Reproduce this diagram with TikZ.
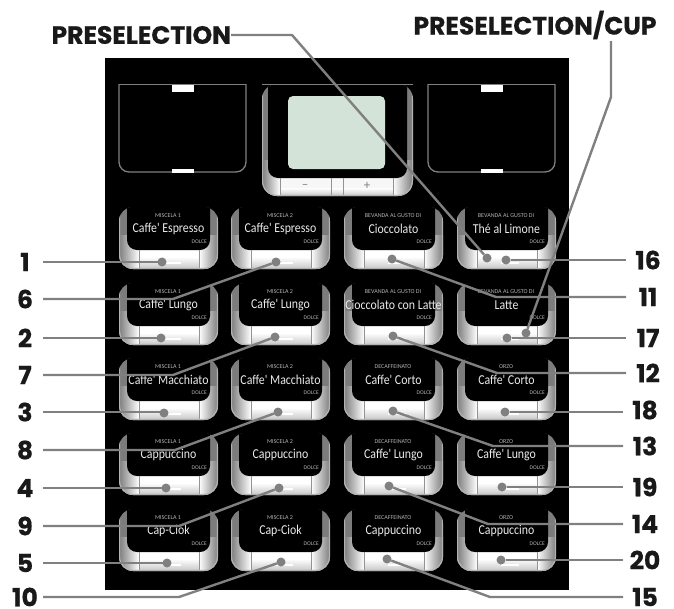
\documentclass[tikz,border=0pt]{standalone}
\usepackage{fontspec}
\setmainfont{Carlito}
\newfontfamily\labfont{Poppins}[BoldFeatures={FakeBold=0.6}]
\newfontfamily\btnfont{Carlito}[FakeStretch=0.87]
\definecolor{lead}{HTML}{808080}
\definecolor{lcd}{HTML}{D3E3D8}
\definecolor{strip}{HTML}{7C7C7C}
\definecolor{small}{HTML}{B4B4B4}
\tikzset{
 lab/.style={font=\labfont\bfseries\fontsize{25}{25}\selectfont,text=black!90,inner sep=0pt,outer sep=0pt,align=center},
 leftlab/.style={lab,minimum width=36pt},
 rightlab/.style={lab,minimum width=44pt},
 dot/.style={circle,fill=lead,inner sep=0pt,minimum size=9pt,outer sep=0pt},
 leader/.style={draw=lead,line width=2.4pt,line join=round},
 toptext/.style={text=small,font=\fontsize{6}{6}\selectfont,inner sep=0pt},
 maintext/.style={text=white!92!black,font=\btnfont\fontsize{13.6}{14}\selectfont,inner sep=0pt},
 dolce/.style={text=small,font=\fontsize{5.6}{6}\selectfont,inner sep=0pt},
 frame/.style={draw=gray,line width=1.3pt,rounded corners=10pt},
 tab/.style={fill=white,draw=none},
 sep/.style={draw=gray!85,line width=.8pt},
}
% #1 name, #2 x, #3 y, #4 top text, #5 main text
\newcommand{\btn}[5]{%
\begin{scope}[shift={(#2,#3)}]
 \begin{scope}
  \clip[rounded corners=14pt] (0,0) -- (0,62) -- (99,62) -- (99,0) -- cycle;
  \fill[strip] (0,0) rectangle (99,62);
  \shade[left color=strip,right color=white] (0,28) rectangle (20,62);
  \shade[left color=white,right color=strip] (80,28) rectangle (99,62);
  \fill[white] (20,43) rectangle (80,62);
  \shade[top color=white,bottom color=gray!45] (20,50) rectangle (80,62);
  \fill[black,rounded corners=10pt] (8,-20) rectangle (91,43);
  \fill[black] (8,-5) rectangle (91,20);
  \fill[white] (44,54.5) rectangle (62,56.5);
  \draw[sep] (20,43) -- (20,62);
  \draw[sep] (80,43) -- (80,62);
  \draw[gray!60,line width=2.4pt,rounded corners=14pt] (0,-2) -- (0,62) -- (99,62) -- (99,-2);
 \end{scope}
 \node[toptext] (#1top) at (49,9) {#4};
 \node[maintext] (#1main) at (49.5,22) {#5};
 \node[dolce,anchor=east] (#1dolce) at (88,35) {DOLCE};
\end{scope}}
\newcommand{\blankframe}[2]{%
\begin{scope}[shift={(#2,84)}]
 \draw[frame] (0,0) -- (0,88) -- (127,88) -- (127,0);
 \draw[gray,line width=1pt] (0,0) -- (127,0);
 \fill[tab] (53,1) rectangle (75,8);
 \fill[tab] (53,85) rectangle (75,88.5);
\end{scope}}
\begin{document}
\begin{tikzpicture}[x=1pt,y=-1pt]
\useasboundingbox (0,0) rectangle (674,608);
\fill[white] (0,0) rectangle (674,608);
\fill[black] (105,58) rectangle (569,590);
\blankframe{a}{119}
\blankframe{b}{428}
% display
\begin{scope}
 \clip[rounded corners=15pt] (262,84) -- (262,196) -- (413,196) -- (413,84) -- cycle;
 \fill[strip] (262,84) rectangle (413,196);
 \shade[left color=strip,right color=white] (262,160) rectangle (280,196);
 \shade[left color=white,right color=strip] (393,160) rectangle (413,196);
 \fill[white!94!gray] (280,178) rectangle (393,196);
 \shade[top color=white,bottom color=gray!45] (280,188) rectangle (393,196);
 \fill[black,rounded corners=10pt] (268,60) rectangle (407,178);
 \draw[sep] (280,178) -- (280,196);
 \draw[sep] (331,178) -- (331,196);
 \draw[sep] (343,178) -- (343,196);
 \draw[sep] (393,178) -- (393,196);
 \draw[gray!60,line width=2.4pt,rounded corners=15pt] (262,80) -- (262,196) -- (413,196) -- (413,80);
\end{scope}
\draw[gray,line width=.6pt] (262,84) -- (413,84);
\fill[lcd,rounded corners=5pt] (288,96) rectangle (385,169);
\node[text=gray,font=\fontsize{13}{13}\selectfont,inner sep=0pt] (minus) at (305,186) {--};
\node[text=gray,font=\fontsize{13}{13}\selectfont,inner sep=0pt] (plus) at (367,186) {+};
% buttons
\btn{b1}{119}{207}{MISCELA 1}{Caffe' Espresso}
\btn{b2}{119}{283}{MISCELA 1}{Caffe' Lungo}
\btn{b3}{119}{358}{MISCELA 1}{Caffe' Macchiato}
\btn{b4}{119}{433}{MISCELA 1}{Cappuccino}
\btn{b5}{119}{509}{MISCELA 1}{Cap-Ciok}
\btn{b6}{231}{207}{MISCELA 2}{Caffe' Espresso}
\btn{b7}{231}{283}{MISCELA 2}{Caffe' Lungo}
\btn{b8}{231}{358}{MISCELA 2}{Caffe' Macchiato}
\btn{b9}{231}{433}{MISCELA 2}{Cappuccino}
\btn{b10}{231}{509}{MISCELA 2}{Cap-Ciok}
\btn{b11}{344}{207}{BEVANDA AL GUSTO DI}{Cioccolato}
\btn{b12}{344}{283}{BEVANDA AL GUSTO DI}{Cioccolato con Latte}
\btn{b13}{344}{358}{DECAFFEINATO}{Caffe' Corto}
\btn{b14}{344}{433}{DECAFFEINATO}{Caffe' Lungo}
\btn{b15}{344}{509}{DECAFFEINATO}{Cappuccino}
\btn{b16}{457}{207}{BEVANDA AL GUSTO DI}{Thé al Limone}
\btn{b17}{457}{283}{BEVANDA AL GUSTO DI}{Latte}
\btn{b18}{457}{358}{ORZO}{Caffe' Corto}
\btn{b19}{457}{433}{ORZO}{Caffe' Lungo}
\btn{b20}{457}{509}{ORZO}{Cappuccino}
% dots
\node[dot] (d1) at (162,262) {};
\node[dot] (d2) at (161,338) {};
\node[dot] (d3) at (164,413) {};
\node[dot] (d4) at (166,488) {};
\node[dot] (d5) at (167,563) {};
\node[dot] (d6) at (276,262) {};
\node[dot] (d7) at (275,337) {};
\node[dot] (d8) at (278,412) {};
\node[dot] (d9) at (279,488) {};
\node[dot] (d10) at (281,562) {};
\node[dot] (d11) at (392,259) {};
\node[dot] (d12) at (393,336) {};
\node[dot] (d13) at (393,411) {};
\node[dot] (d14) at (389,486) {};
\node[dot] (d15) at (387,559) {};
\node[dot] (d16) at (506,260) {};
\node[dot] (d17) at (507,338) {};
\node[dot] (d18) at (505,412) {};
\node[dot] (d19) at (502,487) {};
\node[dot] (d20) at (501,560) {};
\node[dot] (dp) at (487,258) {};
\node[dot] (dc) at (526,333) {};
% labels
\foreach \n/\y in {1/262,6/299,2/338,7/375,3/412,8/450,4/488,9/526,5/563,10/597}
 \node[leftlab] (l\n) at (25,\y) {\n};
\foreach \n/\y in {16/260,11/297,17/338,12/373}
 \node[rightlab] (l\n) at (648,\y) {\n};
\foreach \n/\y in {18/410,13/446,19/487,14/524,20/560,15/597}
 \node[rightlab] (l\n) at (645,\y) {\n};
\node[lab,anchor=east] (lp) at (231,35) {PRESELECTION};
\node[lab] (lc) at (535,25) {PRESELECTION/CUP};
% coordinates
\coordinate (k6) at (173,299);
\coordinate (k7) at (173,375);
\coordinate (k8) at (175,450);
\coordinate (k9) at (179,526);
\coordinate (k10) at (179,597);
\coordinate (k11) at (496,297);
\coordinate (k12) at (497,373);
\coordinate (k13) at (493,446);
\coordinate (k14) at (488,524);
\coordinate (k15) at (490,597);
\coordinate (kp) at (292,35);
\coordinate (kc) at (611,97);
\coordinate (tc) at (611,41);
% connectors
\foreach \n in {1,2,3,4,5} \draw[leader] (l\n.east) -- (l\n.east -| d\n);
\foreach \n in {6,7,8,9,10} \draw[leader] (l\n.east) -- (k\n) -- (d\n);
\foreach \n in {11,12,13,14,15} \draw[leader] (d\n) -- (k\n) -- (l\n.west);
\foreach \n in {16,17,18,19,20} \draw[leader] (d\n) -- (d\n -| l\n.west);
\draw[leader] (lp.east) -- (kp) -- (dp);
\draw[leader] (tc) -- (kc) -- (dc);
\end{tikzpicture}
\end{document}
